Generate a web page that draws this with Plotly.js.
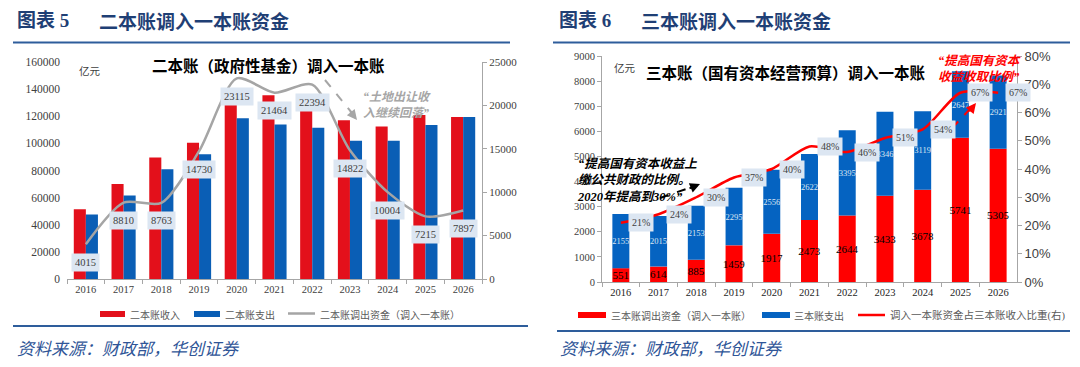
<!DOCTYPE html>
<html><head><meta charset="utf-8">
<script src="https://cdn.plot.ly/plotly-3.0.1.min.js"></script>
<style>html,body{margin:0;padding:0;background:#fff}#chart{width:1080px;height:367px}</style>
</head><body><div id="chart"></div>
<script>
// ---------- data ----------
const years = ['2016','2017','2018','2019','2020','2021','2022','2023','2024','2025','2026'];
// 图表5 二本账（政府性基金）
const acct2Revenue  = [51500, 70000, 89500, 100500, 128500, 135500, 124500, 117000, 112500, 121000, 119500];
const acct2Expense  = [47500, 61500, 81000, 92000, 118500, 114000, 111500, 102000, 102000, 113500, 119500];
const acct2Transfer = [4015, 8810, 8763, 14730, 23115, 21464, 22394, 14822, 10004, 7215, 7897];
// 图表6 三本账（国有资本经营预算）
const acct3Transfer = [551, 614, 885, 1459, 1917, 2473, 2644, 3433, 3678, 5741, 5305];
const acct3Expense  = [2155, 2015, 2153, 2295, 2556, 2622, 3395, 3346, 3119, 2647, 2921];
const acct3Ratio    = [0.21, 0.24, 0.30, 0.37, 0.40, 0.48, 0.46, 0.51, 0.54, 0.67, 0.67];

// ---------- helpers ----------
const W = 1080, H = 367;
const px = x => x / W, py = y => 1 - y / H;
const SERIF = 'Liberation Serif, Noto Sans CJK SC';
const CJK = 'Noto Sans CJK SC';
const RED1 = '#e3101b', BLUE1 = '#0a5eb5';
const RED2 = '#ff0000', BLUE2 = '#0563c1';
const GRAY = '#a5a5a5';
const LABBG = '#dce6f2';

// ---------- traces ----------
const traces = [
  {type:'bar', x:years, y:acct2Revenue, xaxis:'x', yaxis:'y', marker:{color:RED1}, width:0.32, offset:-0.32, name:'二本账收入', showlegend:false},
  {type:'bar', x:years, y:acct2Expense, xaxis:'x', yaxis:'y', marker:{color:BLUE1}, width:0.32, offset:0, name:'二本账支出', showlegend:false},
  {type:'scatter', mode:'lines', x:years, y:acct2Transfer, xaxis:'x', yaxis:'y2', line:{color:GRAY, width:2.5, shape:'spline', smoothing:0.75}, showlegend:false},

  {type:'bar', x:years, y:acct3Transfer, xaxis:'x2', yaxis:'y3', marker:{color:RED2}, width:0.45,
   text:acct3Transfer.map(String), textposition:'inside', insidetextanchor:'middle', textangle:0, constraintext:'none',
   textfont:{family:SERIF, size:11, color:'#000'}, showlegend:false},
  {type:'bar', x:years, y:acct3Expense, base:acct3Transfer, xaxis:'x2', yaxis:'y3', marker:{color:BLUE2}, width:0.45,
   text:acct3Expense.map(String), textposition:'inside', insidetextanchor:'middle', textangle:0, constraintext:'none',
   textfont:{family:SERIF, size:8.5, color:'#dce6f2'}, showlegend:false},
  {type:'scatter', mode:'lines', x:years, y:acct3Ratio, xaxis:'x2', yaxis:'y4', line:{color:RED2, width:2.5, shape:'spline', smoothing:0.75}, showlegend:false}
];

// ---------- annotations ----------
const ann = [];
function txt(x, y, text, size, color, opts) {
  ann.push(Object.assign({xref:'paper', yref:'paper', x:px(x), y:py(y), text:text, showarrow:false,
    xanchor:'left', yanchor:'middle', font:{family:CJK, size:size, color:color}}, opts || {}));
}
// headers
txt(15, 21, '图表 5', 19, '#1f3f75', {font:{family:SERIF, size:19, color:'#1f3f75', weight:700}});
txt(97, 21, '二本账调入一本账资金', 19, '#1f3f75', {font:{family:CJK, size:19, color:'#1f3f75', weight:700}});
txt(557, 21, '图表 6', 19, '#1f3f75', {font:{family:SERIF, size:19, color:'#1f3f75', weight:700}});
txt(639, 21, '三本账调入一本账资金', 19, '#1f3f75', {font:{family:CJK, size:19, color:'#1f3f75', weight:700}});
// chart titles
txt(268, 65, '二本账（政府性基金）调入一本账', 15.5, '#000', {xanchor:'center', font:{family:CJK, size:15.5, color:'#000', weight:700}});
txt(786, 72, '三本账（国有资本经营预算）调入一本账', 15.5, '#000', {xanchor:'center', font:{family:CJK, size:15.5, color:'#000', weight:700}});
// units
txt(77, 70, '亿元', 10.5, '#404040');
txt(612, 67, '亿元', 10.5, '#404040');
// footers
txt(15, 347, '<i>资料来源：财政部，华创证券</i>', 17, '#2f5597');
txt(558, 347, '<i>资料来源：财政部，华创证券</i>', 17, '#2f5597');
// legends text
txt(128, 314, '二本账收入', 10, '#595959');
txt(223, 314, '二本账支出', 10, '#595959');
txt(318, 314, '二本账调出资金（调入一本账）', 10, '#595959');
txt(609, 315, '三本账调出资金（调入一本账）', 10, '#595959');
txt(792, 315, '三本账支出', 10, '#595959');
txt(888, 315, '调入一本账资金占三本账收入比重(右)', 10, '#595959', {font:{family:SERIF, size:10.5, color:'#595959'}});

// callouts
txt(397, 105, '<i>“土地出让收<br>入继续回落”</i>', 12, '#a6a6a6', {xanchor:'center', align:'center', font:{family:SERIF, size:12, color:'#a6a6a6', weight:700}});
txt(575, 180, '<i>“提高国有资本收益上<br>缴公共财政的比例。<br>2020年提高到30%”</i>', 12.5, '#000', {align:'left', font:{family:SERIF, size:12.5, color:'#000', weight:700}});
txt(979, 69, '<i>“提高国有资本<br>收益收取比例”</i>', 12.5, RED2, {xanchor:'center', align:'center', font:{family:SERIF, size:12.5, color:RED2, weight:700}});

// arrowheads for dashed arrows
function head(x, y, dx, dy, color) {
  ann.push({xref:'paper', yref:'paper', x:px(x), y:py(y), ax:dx, ay:dy, text:'', showarrow:true,
    arrowhead:2, arrowsize:1, arrowwidth:2, arrowcolor:color, standoff:0});
}
head(357, 120, -8, -10, '#a6a6a6');
head(700, 184, -12, 5, '#000');
head(976, 103, -8, 10, RED2);

// data labels left line (category index positions)
acct2Transfer.forEach((v, i) => ann.push({xref:'x', yref:'y2', x:i, y:v, text:String(v), showarrow:false,
  yshift:-18, bgcolor:LABBG, borderpad:3, font:{family:SERIF, size:10.5, color:'#404040'}}));
// data labels right ratio line
acct3Ratio.forEach((v, i) => ann.push({xref:'x2', yref:'y4', x:i, y:v, text:Math.round(v*100)+'%', showarrow:false,
  xshift:20, bgcolor:LABBG, borderpad:3, font:{family:SERIF, size:10, color:'#404040'}}));

// ---------- shapes ----------
const shapes = [];
function hline(x0, x1, y, color, w, dash) {
  shapes.push({type:'line', xref:'paper', yref:'paper', x0:px(x0), x1:px(x1), y0:py(y), y1:py(y), line:{color:color, width:w, dash:dash||'solid'}});
}
function seg(x0, y0, x1, y1, color, w, dash) {
  shapes.push({type:'line', xref:'paper', yref:'paper', x0:px(x0), x1:px(x1), y0:py(y0), y1:py(y1), line:{color:color, width:w, dash:dash||'solid'}});
}
function rect(x0, x1, y0, y1, color) {
  shapes.push({type:'rect', xref:'paper', yref:'paper', x0:px(x0), x1:px(x1), y0:py(y0), y1:py(y1), fillcolor:color, line:{width:0}});
}
hline(13, 510, 42.5, '#2e5d9b', 2);
hline(553, 1070, 42.5, '#2e5d9b', 2);
hline(13, 528, 326, '#2e5d9b', 2);
hline(557, 1070, 331, '#2e5d9b', 2);
rect(100, 125, 311, 317, RED1);
rect(194, 220, 311, 317, BLUE1);
hline(288, 315, 313.5, GRAY, 2.5);
rect(578, 606, 312, 318, RED2);
rect(762, 790, 312, 318, BLUE2);
hline(858, 885, 315, RED2, 2.5);
seg(325, 80, 352, 113, '#a6a6a6', 2, 'dash');
seg(660, 198, 692, 187, '#000', 2, 'dash');
seg(952, 128, 971, 108, RED2, 2, 'dash');

// ---------- layout ----------
const tickSerif = (s, c) => ({family:SERIF, size:s, color:c || '#404040'});
const layout = {
  width:W, height:H, margin:{l:0, r:0, t:0, b:0},
  paper_bgcolor:'#fff', plot_bgcolor:'rgba(0,0,0,0)',
  barmode:'overlay', showlegend:false, hovermode:false,
  xaxis:{domain:[px(67), px(482)], anchor:'y', type:'category', range:[-0.5, 10.5],
    showline:true, linecolor:'#a6a6a6', ticks:'outside', tickson:'boundaries', ticklen:4, tickcolor:'#a6a6a6',
    tickfont:tickSerif(10.5), showgrid:false, zeroline:false, fixedrange:true},
  yaxis:{domain:[py(279), py(62)], anchor:'x', range:[0, 160000], dtick:20000, tickformat:'d',
    showline:false, ticks:'', showgrid:false, zeroline:false, tickfont:tickSerif(11.5), ticklabelstandoff:6, fixedrange:true},
  yaxis2:{overlaying:'y', side:'right', anchor:'x', range:[0, 25000], dtick:5000, tickformat:'d',
    showline:true, linecolor:'#a6a6a6', ticks:'outside', ticklen:4, tickcolor:'#a6a6a6',
    showgrid:false, zeroline:false, tickfont:tickSerif(11), fixedrange:true},
  xaxis2:{domain:[px(602), px(1017)], anchor:'y3', type:'category', range:[-0.5, 10.5],
    showline:true, linecolor:'#a6a6a6', ticks:'outside', tickson:'boundaries', ticklen:4, tickcolor:'#a6a6a6',
    tickfont:tickSerif(10.5, '#262626'), showgrid:false, zeroline:false, fixedrange:true},
  yaxis3:{domain:[py(282), py(56)], anchor:'x2', range:[0, 9000], dtick:1000, tickformat:'d',
    showline:true, linecolor:'#a6a6a6', ticks:'outside', ticklen:4, tickcolor:'#a6a6a6',
    showgrid:false, zeroline:false, tickfont:tickSerif(10.5), fixedrange:true},
  yaxis4:{overlaying:'y3', side:'right', anchor:'x2', range:[0, 0.8], dtick:0.1, tickformat:'.0%',
    showline:true, linecolor:'#a6a6a6', ticks:'outside', ticklen:4, tickcolor:'#a6a6a6',
    showgrid:false, zeroline:false, tickfont:{family:'Liberation Sans', size:13, color:'#404040'}, fixedrange:true},
  annotations:ann, shapes:shapes
};
Plotly.newPlot('chart', traces, layout, {displayModeBar:false, staticPlot:true});
</script>
</body></html>
